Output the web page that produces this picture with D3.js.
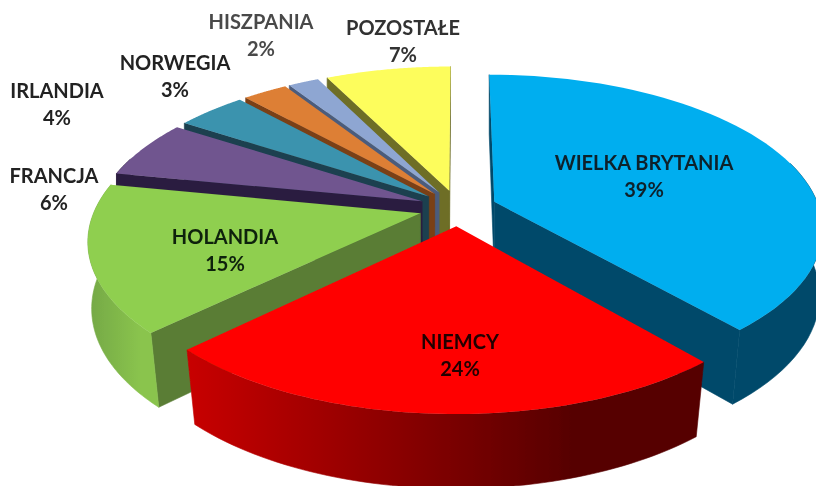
<!DOCTYPE html>
<html>
<head>
<meta charset="utf-8">
<script src="https://cdn.jsdelivr.net/npm/d3@7"></script>
<style>
  html, body { margin: 0; padding: 0; background: #fff; }
  svg { display: block; }
  text { font-family: Lato, "Open Sans", sans-serif; font-weight: 700; font-size: 20px; text-anchor: middle; }
</style>
</head>
<body>
<script>
const categories = ["WIELKA BRYTANIA", "NIEMCY", "HOLANDIA", "FRANCJA", "IRLANDIA", "NORWEGIA", "HISZPANIA", "POZOSTAŁE"];
const shares = [38.7, 24, 15.4, 6.1, 4.1, 2.6, 1.8, 7.3];

const topColors = ["#00aeef", "#ff0000", "#8fcf4f", "#70558f", "#3a93ae", "#dd7f36", "#8ea6d2", "#fdfd5c"];
const sideColors = ["#004a6b", "#5c0000", "#5a7d35", "#2c1f40", "#1b4050", "#7a4015", "#4c5c7c", "#6e6e28"];
const rimLeft = ["#004a6b", "#c80000", "#74a845", "#2c1f40", "#1b4050", "#7a4015", "#4c5c7c", "#6e6e28"];
const rimRight = ["#004a6b", "#560000", "#8ac44e", "#2c1f40", "#1b4050", "#7a4015", "#4c5c7c", "#6e6e28"];

// label centres, hand placed like in the original chart
const labelX = [644, 460, 225, 54, 57, 175, 261, 403];
const labelY = [163, 342, 237, 176, 91, 63, 22, 28];
const labelColors = ["#10202c", "#200000", "#10200a", "#222", "#222", "#222", "#4a4a4a", "#333"];

const width = 816;
const height = 486;

// perspective pie: u to the right, v towards the viewer, z down
const view = { cx: 458, cy: 208, a: 325, b: 150, h: 70, p: 0.165, q: 0.025, explode: 0.12 };

const project = (u, v, z) => {
  // the lower rim only pulls inwards towards the front of the pie
  const s = 1 / (1 - view.p * v + view.q * z * Math.max(0, v + 0.2));
  return [view.cx + view.a * u * s, view.cy + (view.b * v + view.h * z) * s];
};

const pie = d3.pie().sort(null)(shares);
const line = d3.line();

const slices = pie.map((d, i) => {
  const mid = (d.startAngle + d.endAngle) / 2;
  const ou = view.explode * Math.sin(mid);
  const ov = -view.explode * Math.cos(mid);
  const at = (r, angle, z) => project(ou + r * Math.sin(angle), ov - r * Math.cos(angle), z);
  const angles = d3.range(0, 61).map(d3.scaleLinear([0, 60], [d.startAngle, d.endAngle]));
  return { i, mid, ov, at, angles, start: d.startAngle, end: d.endAngle };
});

const svg = d3.select("body").append("svg").attr("width", width).attr("height", height);

const defs = svg.append("defs");
defs.append("filter").attr("id", "soft")
  .append("feGaussianBlur").attr("stdDeviation", 0.45);

const marks = svg.append("g").attr("filter", "url(#soft)");

// back slices first so that the front ones paint over them
slices.slice().sort((a, b) => d3.ascending(-Math.cos(a.mid), -Math.cos(b.mid))).forEach((s) => {
  const g = marks.append("g");
  const topArc = s.angles.map((t) => s.at(1, t, 0));
  const rimAngles = s.angles.filter((t) => -Math.cos(t) > -0.3); // the back of the rim is never seen
  const rimTop = rimAngles.map((t) => s.at(1, t, 0));
  const rimLow = rimAngles.map((t) => s.at(1, t, 1));
  const xs = d3.extent(topArc.concat(rimLow), (d) => d[0]);

  const grad = defs.append("linearGradient")
    .attr("id", `rim-${s.i}`)
    .attr("gradientUnits", "userSpaceOnUse")
    .attr("x1", xs[0]).attr("x2", xs[1]).attr("y1", 0).attr("y2", 0);
  grad.append("stop").attr("offset", 0).attr("stop-color", rimLeft[s.i]);
  grad.append("stop").attr("offset", 0.75).attr("stop-color", rimRight[s.i]);

  // walls get a hairline in their own colour so no seam shows between them
  [s.start, s.end].forEach((t) => {
    const wall = [s.at(0, t, 0), s.at(1, t, 0), s.at(1, t, 1), s.at(0, t, 1)];
    const area = d3.polygonArea(wall);
    if (t === s.end ? area > 0 : area < 0) return; // faces away from the viewer
    g.append("path")
      .attr("d", line(wall) + "Z")
      .attr("fill", sideColors[s.i])
      .attr("stroke", sideColors[s.i])
      .attr("stroke-width", 0.6);
  });

  if (rimAngles.length > 1) {
    g.append("path")
      .attr("d", line(rimTop.concat(rimLow.slice().reverse())) + "Z")
      .attr("fill", `url(#rim-${s.i})`)
      .attr("stroke", `url(#rim-${s.i})`)
      .attr("stroke-width", 0.6);
  }

  g.append("path")
    .attr("d", line([s.at(0, 0, 0), ...topArc]) + "Z")
    .attr("fill", topColors[s.i]);
});

const labels = svg.append("g").attr("filter", "url(#soft)")
  .selectAll("g")
  .data(categories)
  .join("g")
  .attr("fill", (d, i) => labelColors[i])
  .attr("transform", (d, i) => `translate(${labelX[i]} ${labelY[i]})`);

labels.append("text").attr("y", 7).text((d) => d);
labels.append("text").attr("y", 34).text((d, i) => `${Math.round(shares[i])}%`);
</script>
</body>
</html>
